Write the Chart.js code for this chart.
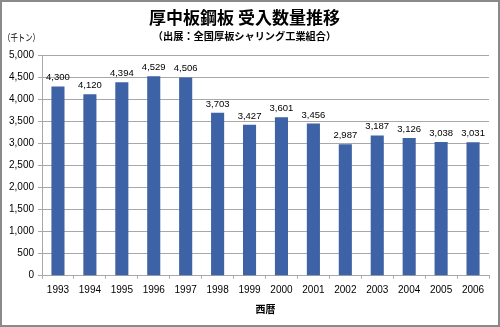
<!DOCTYPE html>
<html lang="ja">
<head>
  <meta charset="UTF-8" />
  <title>厚中板鋼板 受入数量推移</title>
  <script src="https://cdn.jsdelivr.net/npm/chart.js"></script>
  <style>
    html, body { margin: 0; padding: 0; background: #fff; }
    #wrap { width: 500px; height: 327px; position: relative; }
  </style>
</head>
<body>
  <div id="wrap">
    <canvas id="chart" width="500" height="327"></canvas>
  </div>

  <script>
    // data
    const years = ['1993', '1994', '1995', '1996', '1997', '1998', '1999', '2000', '2001', '2002', '2003', '2004', '2005', '2006'];
    const volumes = [4300, 4120, 4394, 4529, 4506, 3703, 3427, 3601, 3456, 2987, 3187, 3126, 3038, 3031];
    const yMax = 5000;
    const yStep = 500;

    const latinFont = "'Liberation Sans', Arial, 'Noto Sans CJK JP', sans-serif";
    const jpFont = "'Noto Sans CJK JP', 'Liberation Sans', sans-serif";

    // value labels over bars, unit label and frame
    const extras = {
      id: 'extras',
      afterDatasetsDraw(chart) {
        const ctx = chart.ctx;
        const meta = chart.getDatasetMeta(0);
        ctx.save();
        ctx.fillStyle = '#000';
        ctx.font = '9.5px ' + latinFont;
        ctx.textAlign = 'center';
        ctx.textBaseline = 'alphabetic';
        meta.data.forEach((bar, i) => {
          ctx.fillText(volumes[i].toLocaleString('en-US'), bar.x, bar.y - 6);
        });
        ctx.restore();
      },
      afterDraw(chart) {
        const ctx = chart.ctx;
        ctx.save();
        ctx.fillStyle = '#000';
        ctx.font = '9.5px ' + jpFont;
        ctx.textAlign = 'left';
        ctx.textBaseline = 'middle';
        ctx.fillText('（千トン）', 3, 37.5, 37);
        ctx.strokeStyle = '#8a8a8a';
        ctx.lineWidth = 2;
        ctx.strokeRect(1, 1, chart.width - 2, chart.height - 2);
        ctx.restore();
      }
    };

    new Chart(document.getElementById('chart').getContext('2d'), {
      type: 'bar',
      data: {
        labels: years,
        datasets: [{
          data: volumes,
          backgroundColor: '#3d62a6',
          borderWidth: 0,
          barPercentage: 0.41,
          categoryPercentage: 1
        }]
      },
      options: {
        responsive: false,
        animation: false,
        layout: { padding: { top: 4, left: 0, right: 11, bottom: 0 } },
        plugins: {
          legend: { display: false },
          tooltip: { enabled: false },
          title: {
            display: true,
            text: '厚中板鋼板 受入数量推移',
            color: '#000',
            font: { family: jpFont, size: 17, weight: 'bold', lineHeight: 1.2 },
            padding: { top: 3, bottom: 3 }
          },
          subtitle: {
            display: true,
            text: '（出展：全国厚板シャリング工業組合）',
            color: '#000',
            font: { family: jpFont, size: 10.2, weight: 'bold', lineHeight: 1.2 },
            padding: { top: 0, bottom: 13 }
          }
        },
        scales: {
          x: {
            afterFit(scale) { scale.height = 51.3; },
            grid: {
              drawOnChartArea: false,
              drawTicks: true,
              tickLength: 3,
              tickColor: '#a8a8a8',
              offset: true
            },
            border: { display: true, color: '#a8a8a8', width: 1 },
            ticks: {
              color: '#000',
              font: { family: latinFont, size: 10 },
              padding: 6,
              maxRotation: 0,
              autoSkip: false
            },
            title: {
              display: true,
              text: '西暦',
              color: '#000',
              font: { family: jpFont, size: 10, weight: 'bold', lineHeight: 1.2 },
              padding: { top: 0, bottom: 11.7 }
            }
          },
          y: {
            min: 0,
            max: yMax,
            afterFit(scale) { scale.width = 42; },
            grid: {
              color: '#a8a8a8',
              lineWidth: 1,
              tickLength: 4,
              tickColor: '#a8a8a8'
            },
            border: { display: true, color: '#a8a8a8', width: 1 },
            ticks: {
              stepSize: yStep,
              color: '#000',
              padding: 4,
              font: { family: latinFont, size: 10 },
              callback: (v) => v.toLocaleString('en-US')
            }
          }
        }
      },
      plugins: [extras]
    });
  </script>
</body>
</html>
